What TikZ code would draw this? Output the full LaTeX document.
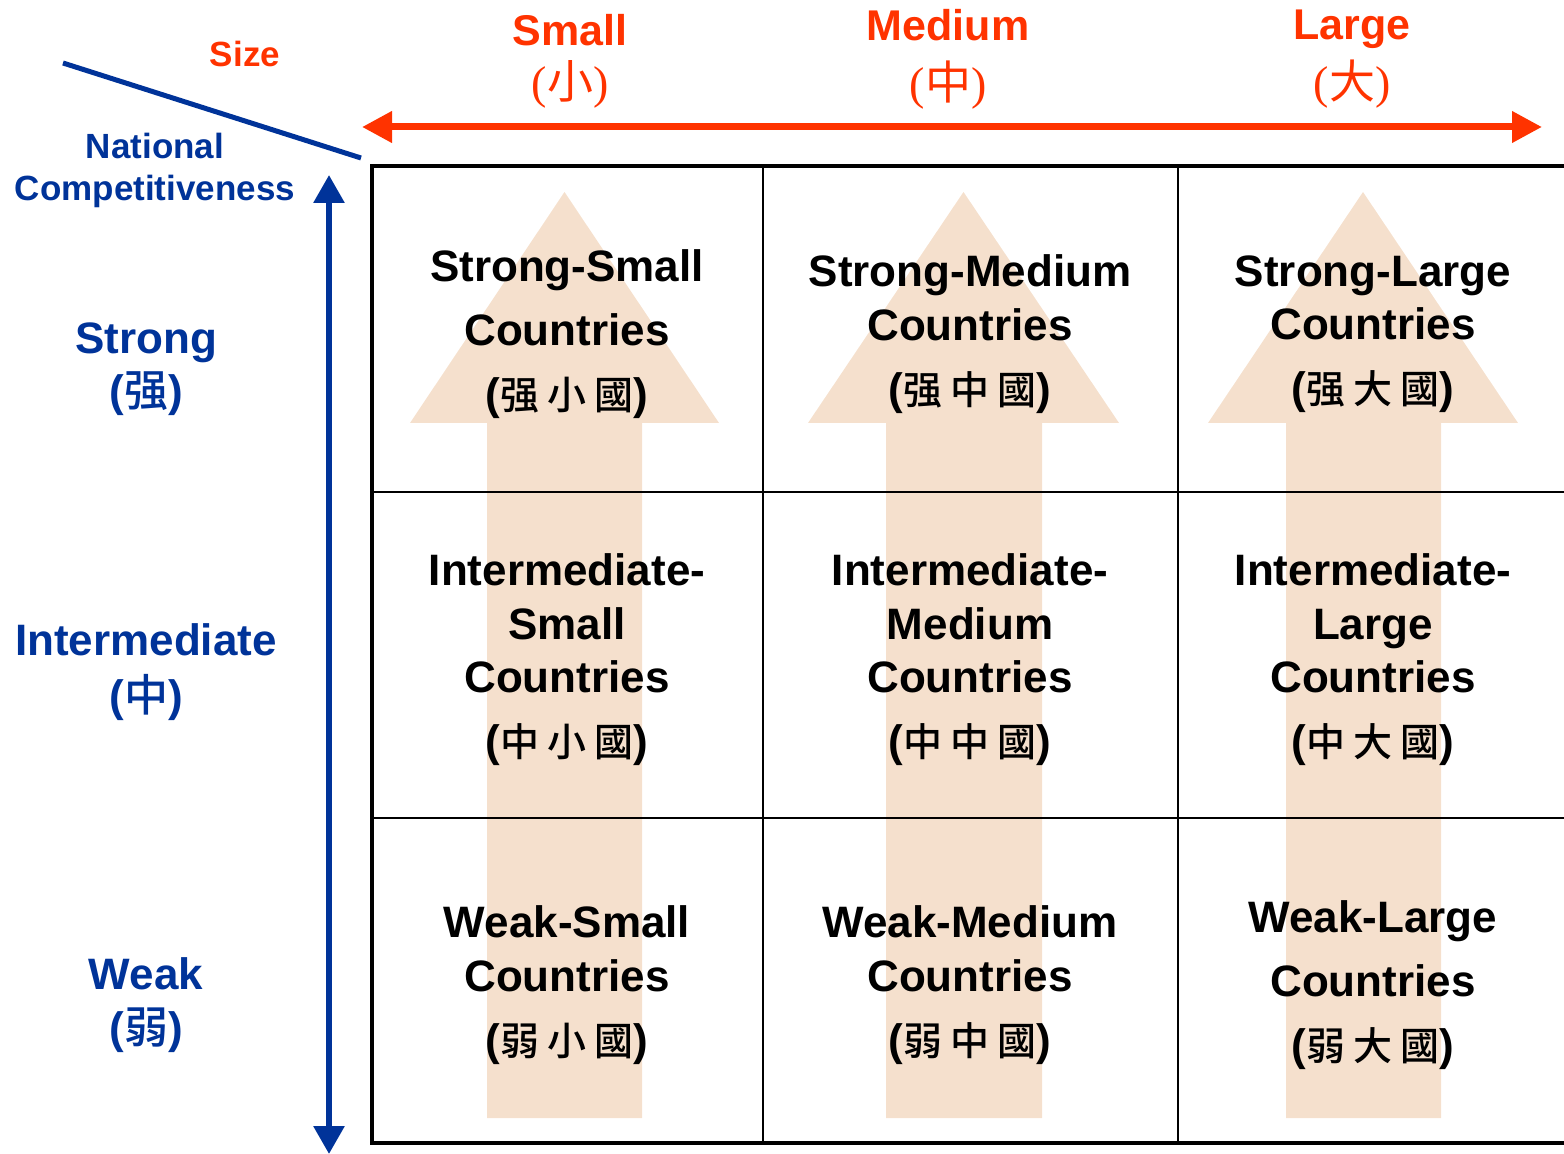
\documentclass[tikz,border=0pt]{standalone}
\usepackage{fontspec}
\setmainfont{Liberation Sans}
\newfontfamily\cjk[BoldFont={Noto Sans CJK TC Medium}]{Noto Sans CJK TC}
\newfontfamily\parenfont{Liberation Serif}
\usetikzlibrary{arrows.meta, positioning}

\definecolor{sizeorange}{HTML}{FF3300}
\definecolor{compblue}{HTML}{003399}
\definecolor{arrowbeige}{HTML}{F5E0CD}

\newcommand{\zh}[1]{{\cjk #1}}
\newcommand{\zhgap}{\hspace{4pt}}
\newcommand{\guo}[2]{(\zh{\fontsize{19.5}{19.5}\selectfont #1\zhgap #2\zhgap 國})}

\begin{document}
\begin{tikzpicture}[x=0.5pt, y=-0.5pt,
						gridcell/.style = {align=center, inner sep=0pt,
										font=\fontsize{22}{26.75}\selectfont\bfseries},
						sizelabel/.style = {align=center, inner sep=0pt, text=sizeorange,
											font=\fontsize{21.5}{26.5}\selectfont\bfseries},
						complabel/.style = {align=center, inner sep=0pt, text=compblue,
											font=\fontsize{22}{26.75}\selectfont\bfseries},
						cornerlabel/.style = {align=center, inner sep=0pt,
											font=\fontsize{17.5}{21}\selectfont\bfseries},
						sizeaxis/.style = {draw=sizeorange, line width=3.5pt,
										{Triangle[length=15pt, width=15pt]}-{Triangle[length=15pt, width=15pt]}},
						compaxis/.style = {draw=compblue, line width=3pt,
										{Triangle[length=14pt, width=15pt]}-{Triangle[length=14pt, width=15pt]}},
						frame/.style = {line width=2.25pt},
						gridline/.style = {line width=1.1pt}
						]

						\useasboundingbox (0,0) rectangle (1564,1154);

						% --- Flechas de fondo ---
						\fill[arrowbeige] (487,1118) -- (487,423) -- (410,423) -- (564.5,192) -- (719,423) -- (642,423) -- (642,1118) -- cycle;
						\fill[arrowbeige] (886,1118) -- (886,423) -- (808,423) -- (963.5,192) -- (1119,423) -- (1042,423) -- (1042,1118) -- cycle;
						\fill[arrowbeige] (1286,1118) -- (1286,423) -- (1208,423) -- (1363,192) -- (1518,423) -- (1441,423) -- (1441,1118) -- cycle;

						% --- Tabla ---
						\draw[frame] (1564,166) -- (372,166) -- (372,1143) -- (1564,1143);
						\draw[gridline] (763,166) -- (763,1143);
						\draw[gridline] (1178,166) -- (1178,1143);
						\draw[gridline] (372,492) -- (1564,492);
						\draw[gridline] (372,818) -- (1564,818);

						% --- Esquina ---
						\draw[compblue, line width=2.5pt] (63,63) -- (361,158);
						\node[cornerlabel, text=sizeorange] (size) at (245,54) {Size};
						\node[cornerlabel, text=compblue] (competitiveness) at (155,170) {National\\Competitiveness};

						% --- Ejes ---
						\coordinate (size_left) at (362,127);
						\coordinate (size_right) at (1542,127);
						\coordinate (comp_top) at (329,175);
						\coordinate (comp_bottom) at (329,1154);
						\draw[sizeaxis] (size_left) -- (size_right);
						\draw[compaxis] (comp_top) -- (comp_bottom);

						% --- Fila Superior (tamano) ---
						\node[sizelabel] (small) at (570,61) {Small\\{\fontsize{23}{26.5}\selectfont\parenfont\mdseries(\zh{小})}};
						\node[sizelabel] (medium) at (948,59) {Medium\\[3pt]{\fontsize{23}{26.5}\selectfont\parenfont\mdseries(\zh{中})}};
						\node[sizelabel] (large) at (1352,59) {Large\\[3pt]{\fontsize{23}{26.5}\selectfont\parenfont\mdseries(\zh{大})}};

						% --- Columna Izquierda (competitividad) ---
						\node[complabel] (strong) at (146,369) {Strong\\(\zh{强})};
						\node[complabel] (intermediate) at (146,672) {Intermediate\\[1pt](\zh{中})};
						\node[complabel] (weak) at (146,1005) {Weak\\(\zh{弱})};

						% --- Celdas ---
						\node[gridcell] (strong_small) at (567,334) {Strong-Small\\[5.25pt]Countries\\[5.25pt]\guo{强}{小}};
						\node[gridcell] (strong_medium) at (970,334) {Strong-Medium\\Countries\\[5.25pt]\guo{强}{中}};
						\node[gridcell] (strong_large) at (1373,334) {Strong-Large\\Countries\\[5.25pt]\guo{强}{大}};

						\node[gridcell] (inter_small) at (567,660) {Intermediate-\\Small\\Countries\\[5.25pt]\guo{中}{小}};
						\node[gridcell] (inter_medium) at (970,660) {Intermediate-\\Medium\\Countries\\[5.25pt]\guo{中}{中}};
						\node[gridcell] (inter_large) at (1373,660) {Intermediate-\\Large\\Countries\\[5.25pt]\guo{中}{大}};

						\node[gridcell] (weak_small) at (567,985) {Weak-Small\\Countries\\[5.25pt]\guo{弱}{小}};
						\node[gridcell] (weak_medium) at (970,985) {Weak-Medium\\Countries\\[5.25pt]\guo{弱}{中}};
						\node[gridcell] (weak_large) at (1373,985) {Weak-Large\\[5.25pt]Countries\\[5.25pt]\guo{弱}{大}};

					\end{tikzpicture}
\end{document}
